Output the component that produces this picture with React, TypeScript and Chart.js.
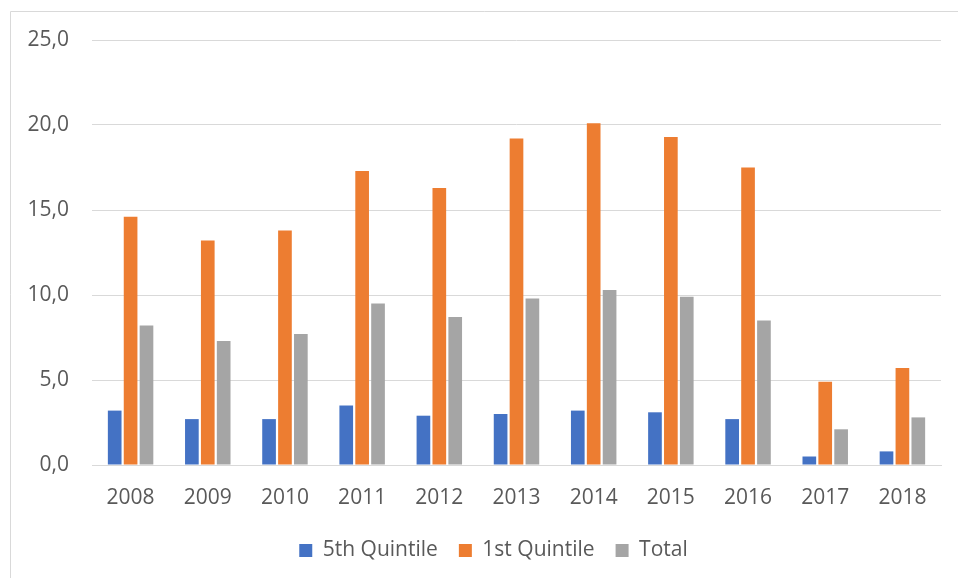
import React, { useEffect, useRef } from "react";
import { Chart, registerables } from "chart.js";

Chart.register(...registerables);

const years = ["2008", "2009", "2010", "2011", "2012", "2013", "2014", "2015", "2016", "2017", "2018"];
const fifthQuintile = [3.2, 2.7, 2.7, 3.5, 2.9, 3.0, 3.2, 3.1, 2.7, 0.5, 0.8];
const firstQuintile = [14.6, 13.2, 13.8, 17.3, 16.3, 19.2, 20.1, 19.3, 17.5, 4.9, 5.7];
const total = [8.2, 7.3, 7.7, 9.5, 8.7, 9.8, 10.3, 9.9, 8.5, 2.1, 2.8];
const seriesNames = ["5th Quintile", "1st Quintile", "Total"];
const seriesColors = ["#4472C4", "#ED7D31", "#A5A5A5"];

const FONT = "'Open Sans', 'DejaVu Sans', sans-serif";
const TEXT = "#595959";
const GRID = "#D9D9D9";

const frame = {
  id: "frame",
  afterLayout(chart: any) {
    if (chart.legend) {
      chart.legend.left += 46;
      chart.legend.width = chart.legend.right - chart.legend.left;
    }
  },
  beforeDraw(chart: any) {
    const ctx = chart.ctx;
    ctx.save();
    ctx.strokeStyle = GRID;
    ctx.lineWidth = 1;
    ctx.beginPath();
    ctx.moveTo(10.5, chart.height);
    ctx.lineTo(10.5, 11.5);
    ctx.lineTo(chart.width, 11.5);
    ctx.stroke();
    ctx.restore();
  },
};

export default function App() {
  const ref = useRef<HTMLCanvasElement | null>(null);
  useEffect(() => {
    if (!ref.current) return;
    const data = [fifthQuintile, firstQuintile, total];
    const chart = new Chart(ref.current, {
      type: "bar",
      data: {
        labels: years,
        datasets: data.map((d, i) => ({
          label: seriesNames[i],
          data: d,
          backgroundColor: seriesColors[i],
          borderWidth: 0,
          categoryPercentage: 0.618,
          barPercentage: 0.86,
        })),
      },
      options: {
        animation: false,
        responsive: false,
        maintainAspectRatio: false,
        layout: { padding: { top: 40, right: 17, left: 0, bottom: 7 } },
        plugins: {
          tooltip: { enabled: false },
          legend: {
            position: "bottom",
            labels: {
              boxWidth: 13,
              boxHeight: 13,
              padding: 21,
              color: TEXT,
              font: { family: FONT, size: 21 },
            },
          },
        },
        scales: {
          x: {
            grid: { display: false, drawTicks: false },
            border: { display: true, color: GRID, width: 1 },
            ticks: { color: TEXT, font: { family: FONT, size: 21 }, padding: 20, maxRotation: 0 },
            afterFit: (s: any) => { s.height = 54; },
          },
          y: {
            min: 0,
            max: 25,
            grid: { color: GRID, lineWidth: 1, drawTicks: false },
            border: { display: false },
            ticks: {
              stepSize: 5,
              color: TEXT,
              font: { family: FONT, size: 21 },
              padding: 23,
              callback: (v: any) => Number(v).toFixed(1).replace(".", ","),
            },
            afterFit: (s: any) => { s.width = 92; },
          },
        },
      },
      plugins: [frame],
    });
    return () => chart.destroy();
  }, []);
  return (
    <div style={{ position: "fixed", left: 0, top: 0, width: 958, height: 578, background: "#fff" }}>
      <canvas ref={ref} width={958} height={578} style={{ display: "block" }} />
    </div>
  );
}
